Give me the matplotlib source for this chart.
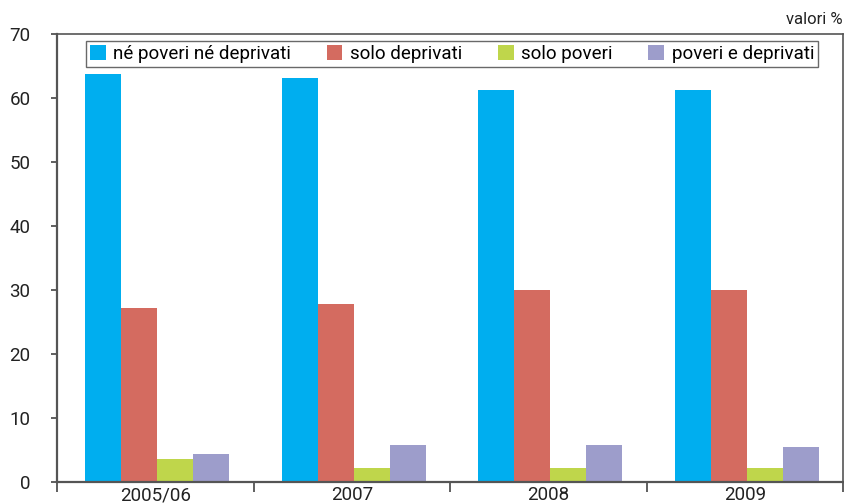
import numpy as np
import matplotlib.pyplot as plt
from matplotlib.ticker import FixedLocator

anni = ['2005/06', '2007', '2008', '2009']
serie = ['né poveri né deprivati', 'solo deprivati', 'solo poveri', 'poveri e deprivati']
ne_poveri_ne_deprivati = [63.8, 63.1, 61.3, 61.2]
solo_deprivati = [27.2, 27.8, 30.0, 30.0]
solo_poveri = [3.6, 2.2, 2.2, 2.2]
poveri_e_deprivati = [4.4, 5.8, 5.8, 5.5]
colori = ['#00AEEF', '#D46B60', '#BFD64B', '#9D9DCB']

plt.rcParams['font.family'] = ['Roboto', 'DejaVu Sans']

fig = plt.figure(figsize=(8.44, 5.03), dpi=100)
ax = fig.add_axes([57 / 844, 21 / 503, 786 / 844, 448 / 503])

x = np.arange(len(anni))
w = 0.183
valori = [ne_poveri_ne_deprivati, solo_deprivati, solo_poveri, poveri_e_deprivati]
for i, (nome, vals) in enumerate(zip(serie, valori)):
    ax.bar(x + (i - 1.5) * w + 0.01, vals, width=w, color=colori[i], label=nome, linewidth=0)

ax.set_xlim(-0.5, 3.5)
ax.set_ylim(0, 70)
ax.set_yticks(range(0, 71, 10))
ax.set_xticks(x)
ax.set_xticklabels(anni)
ax.xaxis.set_minor_locator(FixedLocator([-0.5, 0.5, 1.5, 2.5, 3.5]))
ax.tick_params(axis='x', which='major', length=0, pad=3, labelsize=13.5, colors='#222222')
ax.tick_params(axis='x', which='minor', length=7, width=1.2, color='#444444', direction='out')
ax.tick_params(axis='y', length=4, width=1.2, color='#444444', pad=15, labelsize=13.5, labelcolor='#222222')

for s in ['left', 'bottom']:
    ax.spines[s].set_linewidth(1.6)
    ax.spines[s].set_color('#555555')
for s in ['top', 'right']:
    ax.spines[s].set_linewidth(1.2)
    ax.spines[s].set_color('#555555')

leg = ax.legend(loc='upper center', bbox_to_anchor=(0.5025, 0.984), ncol=4, fontsize=13.5,
                frameon=True, fancybox=False, edgecolor='#444444', handlelength=0.85,
                handleheight=0.85, handletextpad=0.4, columnspacing=1.9, borderpad=0.2,
                borderaxespad=0.0)
leg.get_frame().set_linewidth(1.0)

fig.text(843 / 844, 1 - 19 / 503, 'valori %', ha='right', va='center', fontsize=12, color='#222222')

fig.savefig('out.png', dpi=100)
